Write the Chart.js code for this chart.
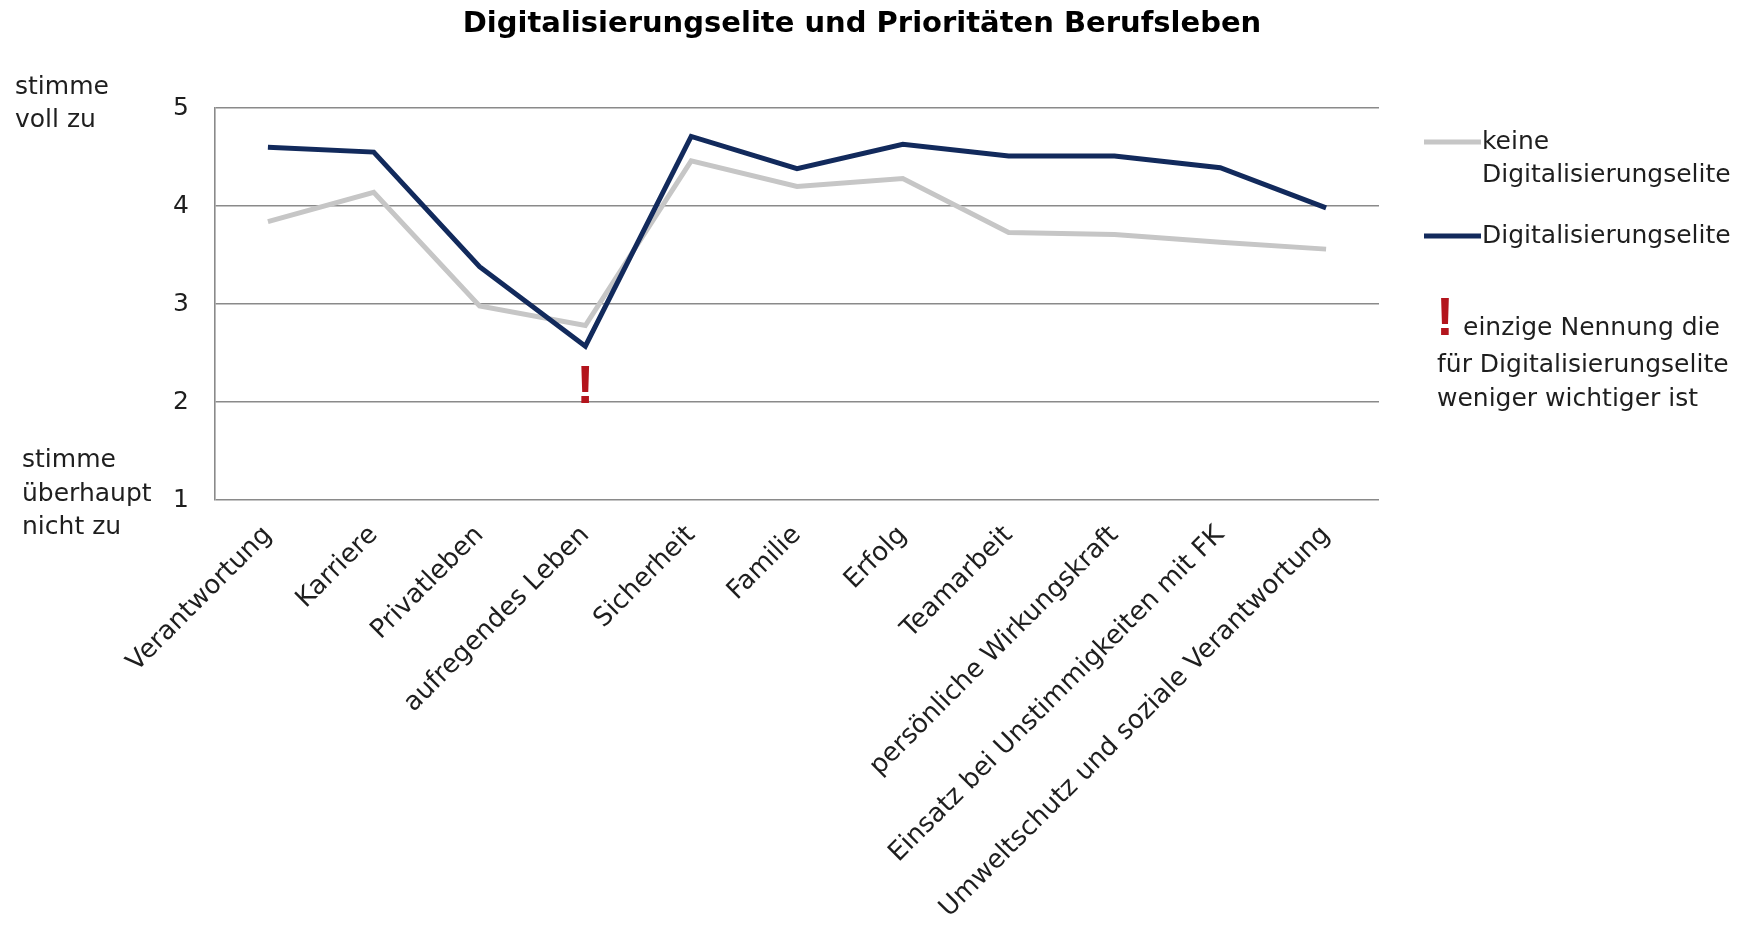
<!DOCTYPE html>
<html lang="de">
<head>
<meta charset="utf-8">
<title>Digitalisierungselite und Prioritäten Berufsleben</title>
<script src="https://cdn.jsdelivr.net/npm/chart.js"></script>
<style>
  html, body { margin: 0; padding: 0; background: #fff; }
  canvas { display: block; }
</style>
</head>
<body>
<canvas id="chart" width="1747" height="925"></canvas>
<script>
// Werte je Priorität (Skala 1 = stimme überhaupt nicht zu ... 5 = stimme voll zu)
const categories = [
  'Verantwortung', 'Karriere', 'Privatleben', 'aufregendes Leben', 'Sicherheit',
  'Familie', 'Erfolg', 'Teamarbeit', 'persönliche Wirkungskraft',
  'Einsatz bei Unstimmigkeiten mit FK', 'Umweltschutz und soziale Verantwortung'
];
const keineElite = [3.84, 4.14, 2.98, 2.78, 4.46, 4.20, 4.28, 3.73, 3.71, 3.63, 3.56];
const elite = [4.60, 4.55, 3.38, 2.57, 4.71, 4.38, 4.63, 4.51, 4.51, 4.39, 3.98];
const yTicks = [1, 2, 3, 4, 5];

// the one item rated lower by the elite group gets a "!" below it
const flaggedIndex = 3;
const flagValue = 2.14;

const TITLE = 'Digitalisierungselite und Prioritäten Berufsleben';
const FONT = '"DejaVu Sans", sans-serif';
const GREY = '#c6c6c6';
const NAVY = '#122a5c';
const RED = '#b3141c';
const TEXT = '#1e1e1e';

// title, axis captions, legend and the "!" markers
const annotations = {
  id: 'annotations',
  afterDraw(chart) {
    const { ctx, scales: { x, y } } = chart;
    ctx.save();

    ctx.fillStyle = '#000';
    ctx.font = `bold 29px ${FONT}`;
    ctx.textAlign = 'center';
    ctx.textBaseline = 'alphabetic';
    ctx.fillText(TITLE, 862, 32);

    ctx.fillStyle = TEXT;
    ctx.font = `25px ${FONT}`;
    ctx.textAlign = 'left';
    ctx.textBaseline = 'middle';
    ctx.fillText('stimme', 15, 87);
    ctx.fillText('voll zu', 15, 120);
    ctx.fillText('stimme', 22, 460);
    ctx.fillText('überhaupt', 22, 494);
    ctx.fillText('nicht zu', 22, 527);

    // legend
    ctx.lineWidth = 5;
    ctx.strokeStyle = GREY;
    ctx.beginPath(); ctx.moveTo(1424, 142); ctx.lineTo(1481, 142); ctx.stroke();
    ctx.strokeStyle = NAVY;
    ctx.beginPath(); ctx.moveTo(1424, 236); ctx.lineTo(1481, 236); ctx.stroke();
    ctx.fillText('keine', 1482, 142);
    ctx.fillText('Digitalisierungselite', 1482, 175);
    ctx.fillText('Digitalisierungselite', 1482, 236);
    ctx.fillText('einzige Nennung die', 1463, 328);
    ctx.fillText('für Digitalisierungselite', 1437, 365);
    ctx.fillText('weniger wichtiger ist', 1437, 399);

    ctx.fillStyle = RED;
    ctx.font = `bold 54px "Liberation Sans", sans-serif`;
    ctx.textAlign = 'center';
    ctx.fillText('!', 1445, 320);
    ctx.fillText('!', x.getPixelForValue(flaggedIndex), y.getPixelForValue(flagValue));

    ctx.restore();
  }
};

new Chart(document.getElementById('chart'), {
  type: 'line',
  data: {
    labels: categories,
    datasets: [
      {
        label: 'keine Digitalisierungselite',
        data: keineElite,
        borderColor: GREY,
        borderWidth: 5,
        pointRadius: 0,
        tension: 0,
        order: 1
      },
      {
        label: 'Digitalisierungselite',
        data: elite,
        borderColor: NAVY,
        borderWidth: 5,
        pointRadius: 0,
        tension: 0,
        order: 0
      }
    ]
  },
  options: {
    responsive: false,
    animation: false,
    layout: { padding: { top: 108, right: 368, left: 0, bottom: 0 } },
    plugins: {
      legend: { display: false },
      title: { display: false },
      tooltip: { enabled: false }
    },
    scales: {
      x: {
        offset: true,
        grid: { display: false, drawTicks: false },
        border: { display: false },
        ticks: {
          autoSkip: false,
          minRotation: 45,
          maxRotation: 45,
          padding: 20,
          color: TEXT,
          font: { family: FONT, size: 26 }
        },
        afterFit(scale) { scale.height = 425; }
      },
      y: {
        min: 1,
        max: 5,
        afterBuildTicks(scale) { scale.ticks = yTicks.map(v => ({ value: v })); },
        grid: { color: '#8a8a8a', lineWidth: 1.6, drawTicks: false },
        border: { display: true, color: '#8a8a8a', width: 1.6 },
        ticks: {
          padding: 26,
          color: TEXT,
          font: { family: FONT, size: 25 }
        },
        afterFit(scale) { scale.width = 215; }
      }
    }
  },
  plugins: [annotations]
});
</script>
</body>
</html>
